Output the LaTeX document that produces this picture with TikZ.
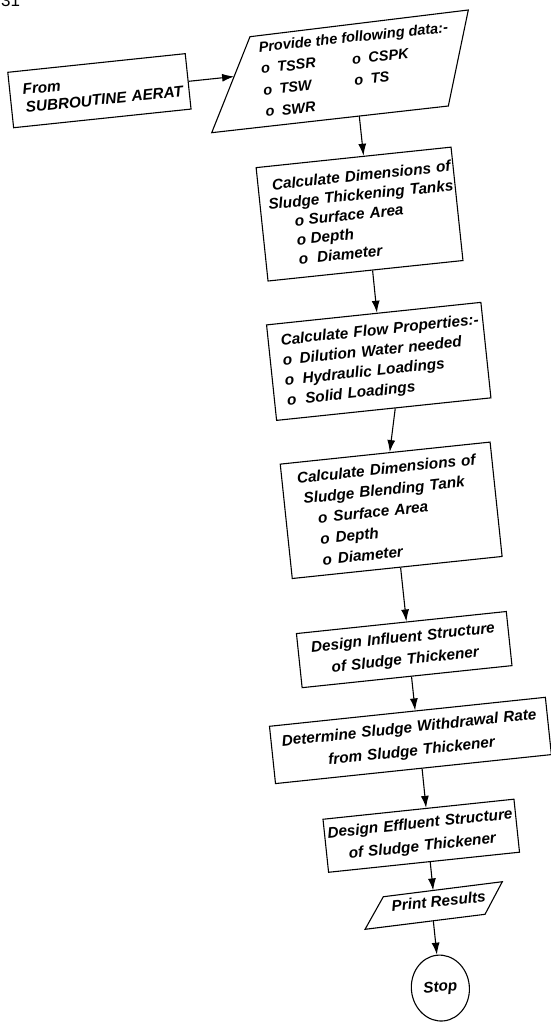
\documentclass[tikz,border=0pt]{standalone}
\usepackage{fontspec}
\setmainfont{Liberation Sans}
\usetikzlibrary{shapes.geometric,arrows.meta,calc}

\newcommand\fs[1]{\fontsize{15.3}{#1}\selectfont\bfseries\itshape}
\newcommand\fsd[1]{\fontsize{14.5}{#1}\selectfont\bfseries\itshape}
\newcommand\bl[2]{o\hspace{#1pt}#2}

\begin{document}
\begin{tikzpicture}[x=1pt,y=1pt,
  box/.style={draw, line width=1.1pt, rectangle, inner sep=0pt},
  outline/.style={draw, line width=1.1pt, line join=miter},
  flowarrow/.style={line width=1.1pt, -{Latex[length=12pt,width=8pt]}},
]
\useasboundingbox (0,0) rectangle (551,-1023);
\node[anchor=base west, font=\fontsize{17}{17}\selectfont, inner sep=0pt] (pagenum) at (1,-6.5) {31};

\begin{scope}[shift={(360,-118)}, rotate=6, transform shape]
  % From box
  \node[box, minimum width=178.4pt, minimum height=55.7pt, text width=178.4pt, align=left, font=\fs{18.5}]
    (from) at (-256.3,54.4) {\hspace*{13pt}From\\\hspace*{14.3pt}SUBROUTINE AERAT};

  % data parallelogram
  \coordinate (dataBL) at (-149,0.9);
  \coordinate (dataBR) at (89.1,2.7);
  \coordinate (dataTR) at (119,96.1);
  \coordinate (dataTL) at (-100.9,92.35);
  \draw[outline] (dataBL) -- (dataBR) -- (dataTR) -- (dataTL) -- cycle;
  \node[anchor=west, align=left, inner sep=0pt, font=\fsd{21.7}] (datatext) at (-93.5,48.75)
    {Provide the following data:-\\
     \makebox[91.7pt][l]{\bl{7.5}{TSSR}}\bl{7.5}{CSPK}\\
     \makebox[91.7pt][l]{\bl{7.5}{TSW}}\bl{7.5}{TS}\\
     \bl{7.5}{SWR}};

  \node[box, minimum width=196pt, minimum height=114pt, text width=196pt, align=left, font=\fs{19.2}]
    (calc) at (-10.5,-95.5)
    {\hspace*{14pt}Calculate Dimensions of\\
     \hspace*{8.5pt}Sludge Thickening Tanks\\
     \hspace*{33pt}\bl{4.5}{Surface Area}\\
     \hspace*{33pt}\bl{4.5}{Depth}\\
     \hspace*{33pt}\bl{9}{Diameter}};

  \node[box, minimum width=215.5pt, minimum height=96pt, text width=215.5pt, align=left, font=\fs{20.1}]
    (flow) at (-6.8,-244)
    {\hspace*{12.5pt}Calculate Flow Properties:-\\
     \hspace*{12.5pt}\bl{7.5}{Dilution Water needed}\\
     \hspace*{12.5pt}\bl{8.3}{Hydraulic Loadings}\\
     \hspace*{12.5pt}\bl{9}{Solid Loadings}};

  \node[box, minimum width=211pt, minimum height=115pt, text width=211pt, align=left, font=\fs{21}]
    (blend) at (-10,-393.4)
    {\hspace*{15.2pt}Calculate Dimensions of\\
     \hspace*{19.6pt}Sludge Blending Tank\\
     \hspace*{32pt}\bl{6}{Surface Area}\\
     \hspace*{32pt}\bl{6}{Depth}\\
     \hspace*{32pt}\bl{6}{Diameter}};

  \node[box, minimum width=211pt, minimum height=54.4pt, text width=211pt, align=center, font=\fs{22}]
    (infl) at (-11.6,-533.3) {Design Influent Structure\\of Sludge Thickener};

  \node[box, minimum width=277.4pt, minimum height=57.6pt, text width=277.4pt, align=center, font=\fs{23.4}]
    (withdr) at (-14.9,-624.3) {Determine Sludge Withdrawal Rate\\from Sludge Thickener};

  \node[box, minimum width=192pt, minimum height=53.3pt, text width=192pt, align=center, font=\fs{22.8}]
    (effl) at (-14.1,-720.2) {Design Effluent Structure\\of Sludge Thickener};

  % print parallelogram
  \coordinate (prBL) at (-79.8,-807.4);
  \coordinate (prBR) at (41.1,-805.0);
  \coordinate (prTR) at (61.7,-774.4);
  \coordinate (prTL) at (-58.2,-776.9);
  \draw[outline] (prBL) -- (prBR) -- (prTR) -- (prTL) -- cycle;
  \node[inner sep=0pt, font=\fs{18}] (printtext) at (-3.7,-787) {Print Results};

  \node[draw, line width=1.1pt, ellipse, minimum width=58pt, minimum height=66pt, inner sep=0pt, font=\fs{18}]
    (stop) at (-11,-873.7) {Stop};

  % connectors
  \draw[flowarrow] (from.east) -- ($(dataBL)!0.585!(dataTL)$);
  \draw[flowarrow] ($(dataBL)!0.6237!(dataBR)$) -- ($(calc.north west)!0.551!(calc.north east)$);
  \draw[flowarrow] ($(calc.south west)!0.536!(calc.south east)$) -- ($(flow.north west)!0.515!(flow.north east)$);
  \draw[flowarrow] ($(flow.south west)!0.553!(flow.south east)$) -- ($(blend.north west)!0.522!(blend.north east)$);
  \draw[flowarrow] ($(blend.south west)!0.516!(blend.south east)$) -- ($(infl.north west)!0.524!(infl.north east)$);
  \draw[flowarrow] ($(infl.south west)!0.521!(infl.south east)$) -- ($(withdr.north west)!0.528!(withdr.north east)$);
  \draw[flowarrow] ($(withdr.south west)!0.531!(withdr.south east)$) -- ($(effl.north west)!0.540!(effl.north east)$);
  \draw[flowarrow] ($(effl.south west)!0.532!(effl.south east)$) -- ($(prTL)!0.4187!(prTR)$);
  \draw[flowarrow] ($(prBL)!0.569!(prBR)$) -- (stop.north);
\end{scope}
\end{tikzpicture}
\end{document}
